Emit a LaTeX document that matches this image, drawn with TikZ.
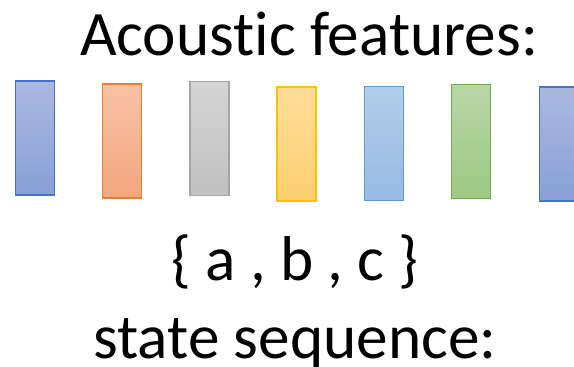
\documentclass[tikz,border=0pt]{standalone}
\usepackage{fontspec}
\setmainfont[Ligatures=NoCommon]{Carlito}
% frame outlines and gradient ends
\definecolor{blueLine}{RGB}{68,114,196}
\definecolor{blueTop}{RGB}{170,184,225}
\definecolor{blueBot}{RGB}{136,160,215}
\definecolor{orangeLine}{RGB}{237,125,49}
\definecolor{orangeTop}{RGB}{248,194,166}
\definecolor{orangeBot}{RGB}{244,166,127}
\definecolor{grayLine}{RGB}{165,165,165}
\definecolor{grayTop}{RGB}{213,213,213}
\definecolor{grayBot}{RGB}{192,192,192}
\definecolor{goldLine}{RGB}{255,192,0}
\definecolor{goldTop}{RGB}{255,221,153}
\definecolor{goldBot}{RGB}{254,207,114}
\definecolor{skyLine}{RGB}{91,155,213}
\definecolor{skyTop}{RGB}{179,204,233}
\definecolor{skyBot}{RGB}{151,187,228}
\definecolor{greenLine}{RGB}{112,173,71}
\definecolor{greenTop}{RGB}{184,215,168}
\definecolor{greenBot}{RGB}{157,200,130}
\begin{document}
\begin{tikzpicture}[x=1bp,y=-1bp,
  feat/.style={draw=#1Line, top color=#1Top, bottom color=#1Bot, line width=1.1bp,
    minimum width=39bp, minimum height=114bp, inner sep=0pt},
  label/.style={inner sep=0pt, anchor=base, font=\fontsize{63.5}{76}\selectfont}]
\useasboundingbox (0,0) rectangle (574,366);
\clip (0,0) rectangle (574,366);
% column of feature frames
\node[feat=blue] (f1) at (35,138) {};
\node[feat=orange] (f2) at (122,141) {};
\node[feat=gray] (f3) at (209.5,138.5) {};
\node[feat=gold] (f4) at (296.5,144) {};
\node[feat=sky] (f5) at (384,143.5) {};
\node[feat=green] (f6) at (471,141.5) {};
\node[feat=blue] (f7) at (559,144) {};
% captions
\node[label] (title) at (309,55) {Acoustic features:};
\node[label] (states) at (295,280) {\{ a , b , c \}};
\node[label] (seq) at (295,358) {state sequence:};
\end{tikzpicture}
\end{document}
